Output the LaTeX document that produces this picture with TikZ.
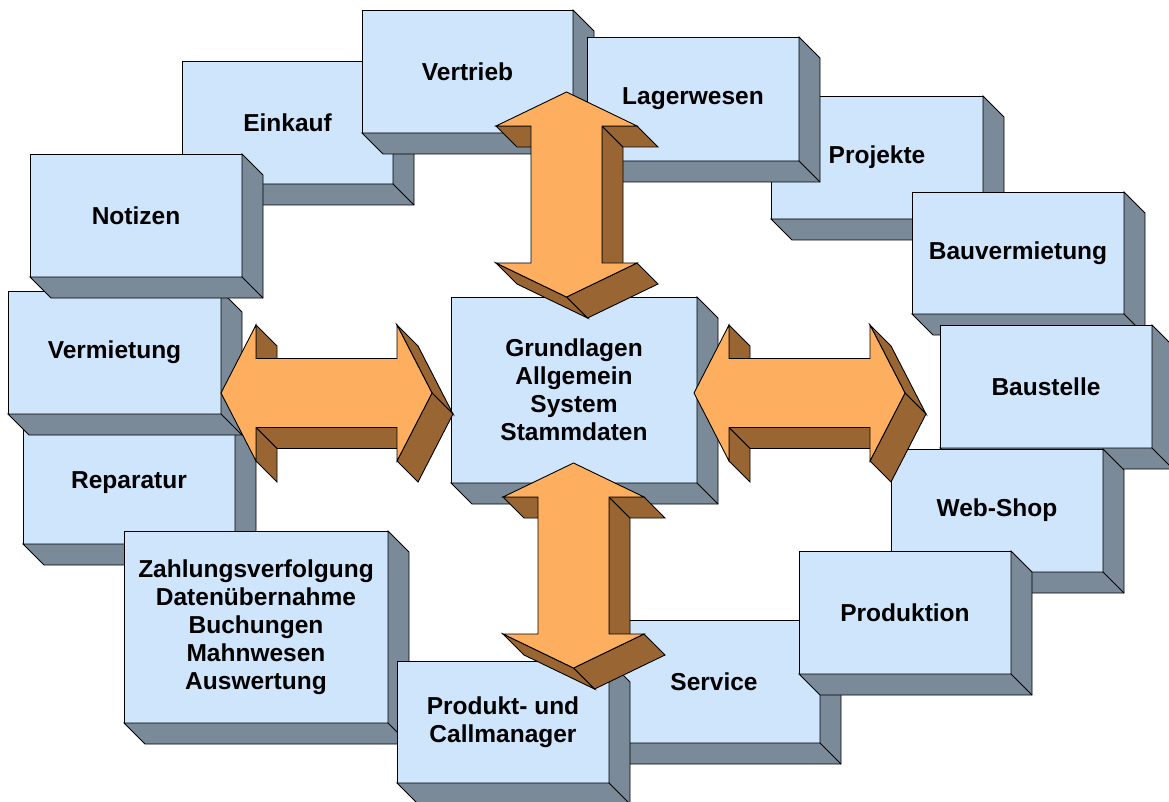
\documentclass[tikz,border=0pt]{standalone}
\usepackage{fontspec}
\setmainfont{Liberation Sans}
\usetikzlibrary{calc}
\definecolor{boxfront}{RGB}{207,229,251}
\definecolor{boxside}{RGB}{122,138,153}
\definecolor{arrfront}{RGB}{253,175,95}
\definecolor{arrside}{RGB}{153,102,51}
\tikzset{
  cubefront/.style={draw=black, fill=boxfront, line width=0.9pt, inner sep=0pt, outer sep=0pt,
    align=center, text=black, font=\fontsize{24.5}{28}\selectfont\bfseries},
  cubeside/.style={draw=black, fill=boxside, line width=0.9pt, line join=miter},
  cubeedge/.style={draw=black, line width=0.9pt},
  arrface/.style={draw=black, fill=arrfront, line width=0.9pt, line join=miter},
  arrbevel/.style={draw=black, fill=arrside, line width=0.9pt, line join=miter},
}
% name, x1, y1, x2, y2, text
\newcommand\cubebox[6]{%
  \node[cubefront, minimum width={(#4-#2)*1pt}, minimum height={(#5-#3)*1pt}]
    (#1) at ({(#2+#4)/2},{(#3+#5)/2}) {#6};
  \filldraw[cubeside] (#1.north east) -- ++(21,21) |- ([shift={(21,21)}]#1.south west)
    -- (#1.south west) -- (#1.south east) -- cycle;
  \draw[cubeedge] (#1.south east) -- ++(21,21);
}
% vertical double arrow: centre x, top y
\newcommand\varrow[2]{%
  \begin{scope}[shift={(#1,#2)}]
    \filldraw[arrbevel] (35.5,34) -- (35.5,171) -- (56.5,192) -- (56.5,55) -- cycle;
    \filldraw[arrbevel] (70.5,34) -- (35.5,34) -- (56.5,55) -- (91.5,55) -- cycle;
    \filldraw[arrbevel] (-35.5,34) -- (-70.5,34) -- (-49.5,55) -- (-14.5,55) -- cycle;
    \filldraw[arrbevel] (70.5,171) -- (0,205) -- (21,226) -- (91.5,192) -- cycle;
    \filldraw[arrbevel] (0,205) -- (-70.5,171) -- (-49.5,192) -- (21,226) -- cycle;
    \filldraw[arrface] (0,0) -- (70.5,34) -- (35.5,34) -- (35.5,171) -- (70.5,171) -- (0,205)
      -- (-70.5,171) -- (-35.5,171) -- (-35.5,34) -- (-70.5,34) -- cycle;
  \end{scope}
}
% horizontal double arrow: left tip x, tip y
\newcommand\harrow[2]{%
  \begin{scope}[shift={(#1,#2)}]
    \filldraw[arrbevel] (176,34.5) -- (35,34.5) -- (56,55.5) -- (197,55.5) -- cycle;
    \filldraw[arrbevel] (35,34.5) -- (35,68) -- (56,89) -- (56,55.5) -- cycle;
    \filldraw[arrbevel] (35,-68) -- (35,-34.5) -- (56,-13.5) -- (56,-47) -- cycle;
    \filldraw[arrbevel] (176,-68) -- (211,0) -- (232,21) -- (197,-47) -- cycle;
    \filldraw[arrbevel] (211,0) -- (176,68) -- (197,89) -- (232,21) -- cycle;
    \filldraw[arrface] (0,0) -- (35,-68) -- (35,-34.5) -- (176,-34.5) -- (176,-68) -- (211,0)
      -- (176,68) -- (176,34.5) -- (35,34.5) -- (35,68) -- cycle;
  \end{scope}
}
\begin{document}
\begin{tikzpicture}[x=1pt, y=-1pt]
  \useasboundingbox (0,0) rectangle (1169,802);
  \fill[white] (0,0) rectangle (1169,802);
  \begin{scope}
  \clip (0,0) rectangle (1169,802);
  \cubebox{reparatur}{23}{421}{235}{544}{Reparatur}
  \cubebox{zahlung}{124}{531}{388}{723}{Zahlungsverfolgung\\Datenübernahme\\Buchungen\\Mahnwesen\\Auswertung}
  \cubebox{vermietung}{8}{291}{221}{414}{Vermietung}
  \cubebox{einkauf}{182}{61}{393}{184}{Einkauf}
  \cubebox{notizen}{30}{154}{242}{277}{Notizen}
  \cubebox{vertrieb}{362}{10}{573}{133}{Vertrieb}
  \cubebox{projekte}{771}{96}{983}{219}{Projekte}
  \cubebox{lagerwesen}{587}{37}{799}{161}{Lagerwesen}
  \cubebox{bauvermietung}{912}{192}{1124}{314}{Bauvermietung}
  \cubebox{baustelle}{940}{325}{1152}{448}{Baustelle}
  \cubebox{webshop}{891}{449}{1103}{572}{Web-Shop}
  \cubebox{service}{608}{620}{820}{743}{Service}
  \cubebox{produktion}{799}{551}{1011}{674}{Produktion}
  \cubebox{produkt}{397}{661}{609}{783}{Produkt- und\\Callmanager}
  \cubebox{center}{451}{297}{697}{483}{Grundlagen\\Allgemein\\System\\Stammdaten}
  \varrow{566.5}{92}
  \varrow{573.5}{463}
  \harrow{221}{393}
  \harrow{694}{393}
  \end{scope}
\end{tikzpicture}
\end{document}
